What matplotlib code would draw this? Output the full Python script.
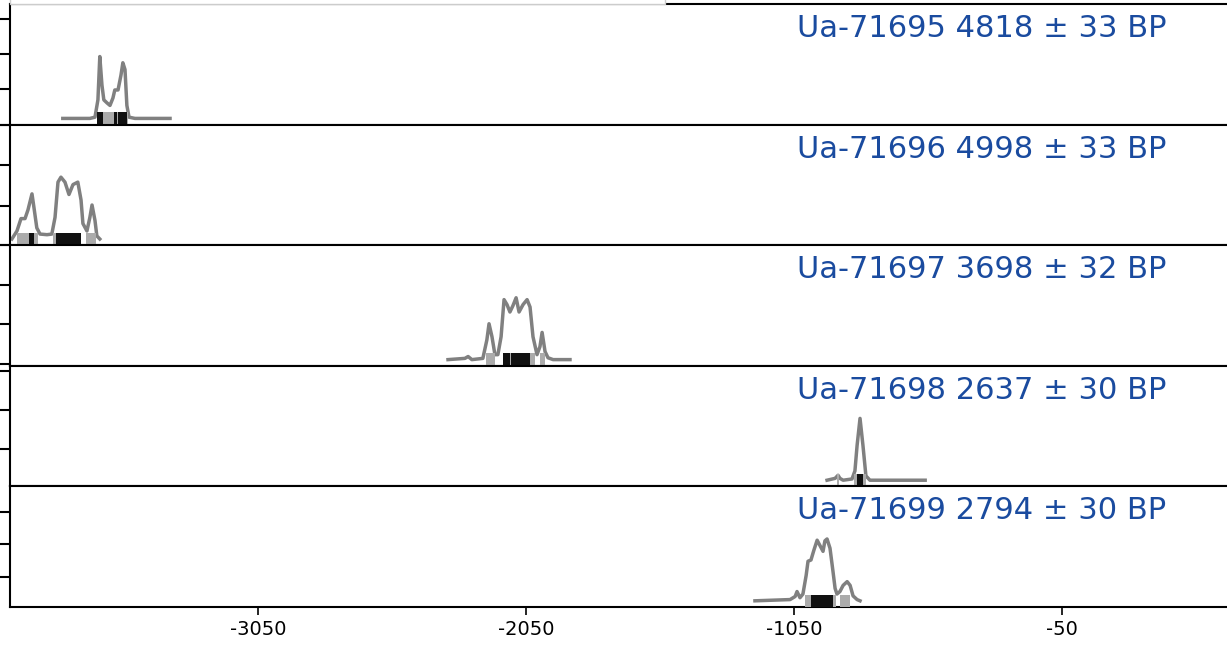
import numpy as np
import matplotlib.pyplot as plt
from matplotlib.patches import Rectangle

plt.rcParams['axes.unicode_minus'] = False

labels = ["Ua-71695 4818 ± 33 BP", "Ua-71696 4998 ± 33 BP", "Ua-71697 3698 ± 32 BP",
          "Ua-71698 2637 ± 30 BP", "Ua-71699 2794 ± 30 BP"]

# calibrated curves (year BC/AD, relative probability, peak = 1)
yr1 = [-3778, -3677, -3658, -3647, -3640, -3632, -3625, -3613, -3602, -3591, -3584,
       -3572, -3561, -3554, -3546, -3539, -3531, -3509, -3378]
p1 = [0, 0, 0.02, 0.3, 1.0, 0.54, 0.3, 0.25, 0.21, 0.33, 0.46,
      0.46, 0.7, 0.9, 0.79, 0.21, 0.02, 0, 0]

yr2 = [-3968, -3949, -3934, -3919, -3908, -3893, -3886, -3875, -3863, -3837, -3819,
       -3807, -3796, -3785, -3770, -3755, -3740, -3722, -3710, -3703, -3688, -3677,
       -3669, -3658, -3651, -3640]
p2 = [0, 0.13, 0.33, 0.33, 0.47, 0.73, 0.52, 0.18, 0.08, 0.07, 0.08,
      0.35, 0.92, 1.0, 0.92, 0.72, 0.88, 0.92, 0.63, 0.25, 0.13, 0.35,
      0.55, 0.3, 0.05, 0]

yr3 = [-2341, -2278, -2266, -2252, -2211, -2196, -2188, -2177, -2166, -2155, -2143,
       -2132, -2121, -2110, -2099, -2087, -2076, -2061, -2046, -2035, -2024, -2009,
       -1998, -1990, -1979, -1968, -1949, -1886]
p3 = [0, 0.02, 0.05, 0, 0.02, 0.32, 0.58, 0.37, 0.08, 0.08, 0.37,
      0.97, 0.89, 0.77, 0.87, 1.0, 0.77, 0.89, 0.97, 0.85, 0.37, 0.08,
      0.21, 0.44, 0.13, 0.03, 0, 0]

yr4 = [-927, -897, -886, -879, -867, -834, -823, -815, -804, -793, -782, -767, -561]
p4 = [0, 0.03, 0.08, 0.03, 0, 0.02, 0.15, 0.56, 1.0, 0.56, 0.07, 0, 0]

yr5 = [-1196, -1065, -1046, -1039, -1028, -1017, -1005, -998, -987, -976, -964,
       -953, -942, -935, -927, -916, -905, -897, -890, -879, -867, -852, -841,
       -830, -815, -804]
p5 = [0, 0.02, 0.07, 0.15, 0.05, 0.11, 0.41, 0.64, 0.66, 0.82, 0.98,
      0.89, 0.8, 0.97, 1.0, 0.85, 0.48, 0.2, 0.11, 0.15, 0.25, 0.31, 0.25,
      0.08, 0.02, 0]

# highest density ranges: 95.4% (grey) and 68.2% (black)
hpd95 = [[(-3651, -3535)],
         [(-3949, -3871), (-3815, -3710), (-3692, -3655)],
         [(-2199, -2166), (-2136, -2017), (-1998, -1979)],
         [(-890, -882), (-826, -782)],
         [(-1009, -894), (-879, -841)]]
hpd68 = [[(-3651, -3628), (-3587, -3576), (-3571, -3538)],
         [(-3904, -3886), (-3804, -3710)],
         [(-2136, -2111), (-2107, -2035)],
         [(-815, -793)],
         [(-987, -905)]]

years = [yr1, yr2, yr3, yr4, yr5]
probs = [p1, p2, p3, p4, p5]
yticks = [[-0.1, 0.47, 1.04, 1.61], [-0.1, 0.54, 1.2, 1.85], [-0.07, 0.57, 1.21, 1.85],
          [0.51, 1.13, 1.77], [0.39, 0.92, 1.44]]

fig = plt.figure(figsize=(12.27, 6.46), dpi=100)
axes = fig.subplots(5, 1, sharex=True, gridspec_kw=dict(hspace=0))
fig.subplots_adjust(left=10/1227, right=1.0, top=1-4/646, bottom=1-607/646)

for i, ax in enumerate(axes):
    ax.plot(years[i], probs[i], color='#808080', lw=2.5, zorder=2)
    for a, b in hpd95[i]:
        ax.bar(a, 0.2, width=b - a, bottom=-0.1, align='edge', color='#ababab', lw=0, zorder=3)
    for a, b in hpd68[i]:
        ax.bar(a, 0.2, width=b - a, bottom=-0.1, align='edge', color='#111111', lw=0, zorder=4)
    ax.text(0.95, 0.726, labels[i], transform=ax.transAxes, ha='right', va='baseline',
            fontsize=22, color='#1a4b9f')
    ax.set_ylim(-0.1, 1.85)
    ax.set_yticks(yticks[i])
    ax.tick_params(axis='y', length=8, width=1.5, labelleft=False)
    ax.spines['right'].set_visible(False)
    for s in ['left', 'bottom', 'top']:
        ax.spines[s].set_linewidth(1.5)
    if i < 4:
        ax.tick_params(axis='x', bottom=False)

axes[-1].set_xlim(-3975, 565)
axes[-1].set_xticks([-3050, -2050, -1050, -50])
axes[-1].tick_params(axis='x', length=6, width=1.2, labelsize=14)

# frame of the caption box above the plot (cut off at the top)
fig.add_artist(Rectangle((10/1227, 1-4/646), (665-10)/1227, 0.1, transform=fig.transFigure,
                         facecolor='white', edgecolor='0.8', lw=1, zorder=5, clip_on=False))

fig.savefig('out.png', dpi=100)
